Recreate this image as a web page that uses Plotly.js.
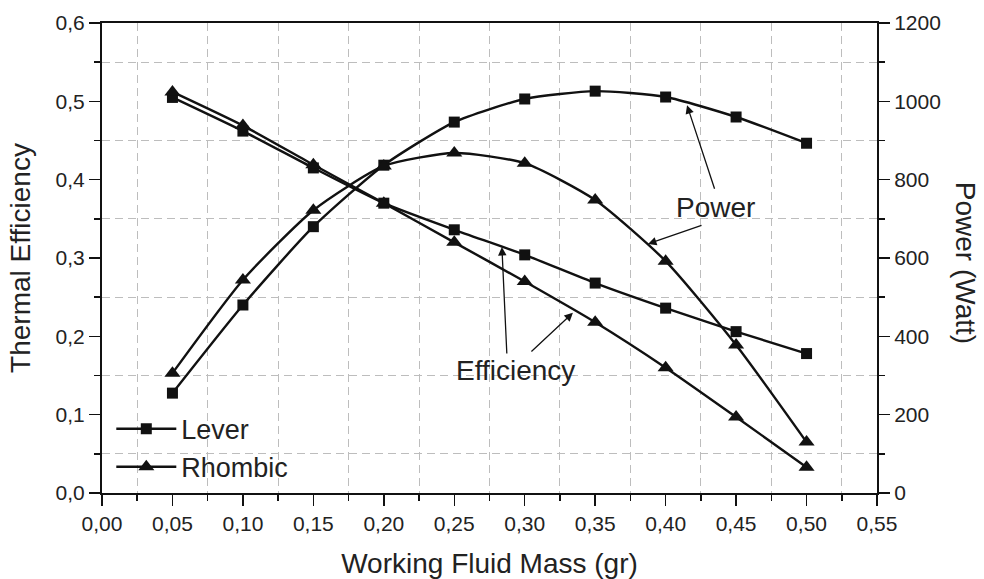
<!DOCTYPE html>
<html>
<head>
<meta charset="utf-8">
<script src="https://cdn.plot.ly/plotly-3.0.1.min.js"></script>
<style>html,body{margin:0;padding:0;background:#fff;}#chart{width:984px;height:579px;}</style>
</head>
<body>
<div id="chart"></div>
<script>
const mass = [0.05, 0.10, 0.15, 0.20, 0.25, 0.30, 0.35, 0.40, 0.45, 0.50];
const effLever   = [0.505, 0.462, 0.415, 0.370, 0.336, 0.304, 0.268, 0.236, 0.206, 0.178];
const effRhombic = [0.512, 0.469, 0.419, 0.370, 0.320, 0.270, 0.218, 0.160, 0.097, 0.033];
const powLever   = [255, 480, 680, 837, 947, 1006, 1026, 1011, 960, 893];
const powRhombic = [306, 544, 722, 835, 868, 842, 748, 592, 378, 130];

const font = 'Liberation Sans, Arial, sans-serif';
const ink = '#111';
const txt = '#222';
const lineStyle = {color: ink, width: 2.4, shape: 'spline', smoothing: 0.6};
const sq = {symbol: 'square', size: 11, color: ink};
const tri = {symbol: 'triangle-up', size: 14, color: ink};

const traces = [
  {x: mass, y: effLever, name: 'Lever', mode: 'lines+markers', line: lineStyle, marker: sq, yaxis: 'y', legendgroup: 'L'},
  {x: mass, y: effRhombic, name: 'Rhombic', mode: 'lines+markers', line: lineStyle, marker: tri, yaxis: 'y', legendgroup: 'R'},
  {x: mass, y: powLever, name: 'Lever', mode: 'lines+markers', line: lineStyle, marker: sq, yaxis: 'y2', legendgroup: 'L', showlegend: false},
  {x: mass, y: powRhombic, name: 'Rhombic', mode: 'lines+markers', line: lineStyle, marker: tri, yaxis: 'y2', legendgroup: 'R', showlegend: false}
];

const gridMinor = {showgrid: true, gridcolor: '#bdbdbd', gridwidth: 1, griddash: '8px,5px', ticks: 'outside', ticklen: 6, tickcolor: ink, tickwidth: 1.5};
const titleFont = {size: 28, family: font, color: txt};

const layout = {
  width: 984, height: 579,
  margin: {l: 102, r: 107, t: 23, b: 86},
  paper_bgcolor: '#fff', plot_bgcolor: '#fff',
  separators: ', ',
  font: {family: font, size: 21, color: txt},
  showlegend: true,
  legend: {x: 0.012, y: 0.188, xanchor: 'left', yanchor: 'top', bgcolor: 'rgba(0,0,0,0)', font: {size: 27, family: font, color: txt}, itemwidth: 60, tracegroupgap: 0},
  xaxis: {
    range: [0, 0.55], tick0: 0, dtick: 0.05, tickformat: '.2f',
    showgrid: false, zeroline: false,
    showline: true, linecolor: ink, linewidth: 2, mirror: true,
    ticks: 'outside', ticklen: 11, tickwidth: 1.5, tickcolor: ink,
    minor: Object.assign({dtick: 0.05, tick0: 0.025}, gridMinor),
    title: {text: 'Working Fluid Mass (gr)', font: titleFont, standoff: 23},
    automargin: false
  },
  yaxis: {
    range: [0, 0.6], tick0: 0, dtick: 0.1, tickformat: '.1f',
    showgrid: false, zeroline: false,
    showline: true, linecolor: ink, linewidth: 2,
    ticks: 'outside', ticklen: 11, tickwidth: 1.5, tickcolor: ink,
    minor: Object.assign({dtick: 0.1, tick0: 0.05}, gridMinor),
    title: {text: 'Thermal Efficiency', font: titleFont, standoff: 17},
    automargin: false
  },
  yaxis2: {
    range: [0, 1200], tick0: 0, dtick: 200, overlaying: 'y', side: 'right',
    showgrid: false, zeroline: false,
    showline: true, linecolor: ink, linewidth: 2,
    ticks: 'outside', ticklen: 11, tickwidth: 1.5, tickcolor: ink,
    minor: {dtick: 200, tick0: 100, ticks: 'outside', ticklen: 6, tickcolor: ink, tickwidth: 1.5, showgrid: false},
    automargin: false
  },
  annotations: [
    {xref: 'paper', yref: 'paper', x: 1.136, y: 0.49, text: 'Power (Watt)', textangle: 90, showarrow: false, font: titleFont},
    {xref: 'x', yref: 'y2', x: 0.4152, y: 990, ax: 28, ay: 85, text: '', showarrow: true, arrowhead: 2, arrowsize: 1.3, arrowwidth: 1.3, arrowcolor: ink},
    {xref: 'x', yref: 'y2', x: 0.3875, y: 636, ax: 55, ay: -19, text: '', showarrow: true, arrowhead: 2, arrowsize: 1.3, arrowwidth: 1.3, arrowcolor: ink},
    {xref: 'x', yref: 'y2', x: 0.4352, y: 730, text: 'Power', showarrow: false, font: titleFont},
    {xref: 'x', yref: 'y', x: 0.2838, y: 0.314, ax: 5, ay: 108, text: '', showarrow: true, arrowhead: 2, arrowsize: 1.3, arrowwidth: 1.3, arrowcolor: ink},
    {xref: 'x', yref: 'y', x: 0.3342, y: 0.230, ax: -43, ay: 40, text: '', showarrow: true, arrowhead: 2, arrowsize: 1.3, arrowwidth: 1.3, arrowcolor: ink},
    {xref: 'x', yref: 'y', x: 0.2931, y: 0.157, text: 'Efficiency', showarrow: false, font: titleFont}
  ]
};

Plotly.newPlot('chart', traces, layout, {displayModeBar: false, staticPlot: true});
</script>
</body>
</html>
